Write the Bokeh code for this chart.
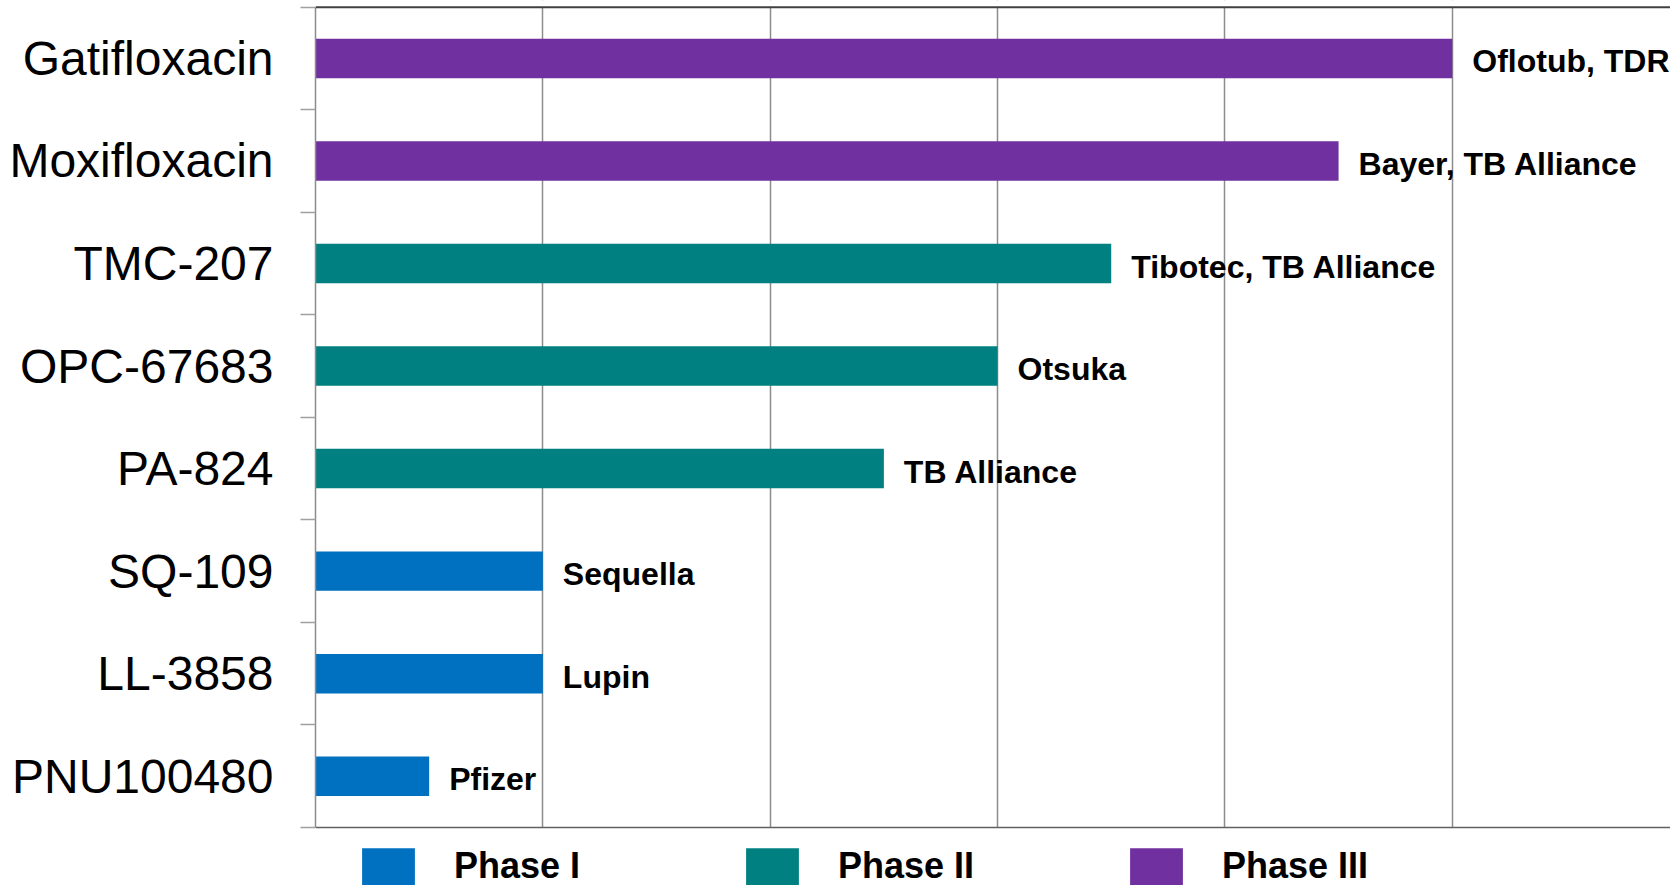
from bokeh.plotting import figure
from bokeh.models import (ColumnDataSource, Range1d, FixedTicker, Grid, Span,
                          Legend, LegendItem, BoxAnnotation)
from bokeh.core.properties import value
from bokeh.embed import file_html
from bokeh.resources import INLINE

# ---- data ----
drugs = ["Gatifloxacin", "Moxifloxacin", "TMC-207", "OPC-67683",
         "PA-824", "SQ-109", "LL-3858", "PNU100480"]
durations = [5.0, 4.5, 3.5, 3.0, 2.5, 1.0, 1.0, 0.5]
phases = ["Phase III", "Phase III", "Phase II", "Phase II",
          "Phase II", "Phase I", "Phase I", "Phase I"]
sponsors = ["Oflotub, TDR", "Bayer,  TB Alliance", "Tibotec, TB Alliance",
            "Otsuka", "TB Alliance", "Sequella", "Lupin", "Pfizer"]
phase_names = ["Phase I", "Phase II", "Phase III"]
phase_colors = ["#0070C0", "#008080", "#7030A0"]
grid_ticks = [1, 2, 3, 4, 5]

n = len(drugs)
ypos = [i + 0.5 for i in range(n)]

# layout padding (in row units) above the top line and below the bottom axis (legend room)
pad_top = 0.065
pad_bottom = 0.566

p = figure(width=1670, height=885, output_backend="svg", toolbar_location=None,
           x_range=Range1d(0, 5.96), y_range=Range1d(n + pad_bottom, -pad_top),
           x_axis_type=None, min_border_left=315, min_border_right=0,
           min_border_top=0, min_border_bottom=0)
p.outline_line_color = None
p.ygrid.visible = False
p.background_fill_color = "white"

# vertical gridlines
grid = Grid(dimension=0, ticker=FixedTicker(ticks=grid_ticks),
            grid_line_color="#8c8c8c", grid_line_width=1.5)
p.add_layout(grid)

# y axis with category labels at centres, boundary ticks as minor ticks
yax = p.yaxis[0]
yax.ticker = FixedTicker(ticks=ypos, minor_ticks=list(range(n + 1)))
yax.major_label_overrides = {y: d for y, d in zip(ypos, drugs)}
yax.bounds = (0, n)
yax.major_tick_out = 0
yax.major_tick_in = 0
yax.major_tick_line_color = None
yax.minor_tick_out = 15
yax.minor_tick_in = 0
yax.minor_tick_line_color = "#a0a0a0"
yax.minor_tick_line_width = 1.5
yax.axis_line_color = "#8c8c8c"
yax.axis_line_width = 1.5
yax.major_label_standoff = 27
yax.major_label_text_font = "Liberation Sans"
yax.major_label_text_font_size = "48px"
yax.major_label_text_color = "#000000"

# blank bands outside the plotting rows (legend area below, margin above)
p.add_layout(BoxAnnotation(top=n, fill_color="white", fill_alpha=1.0, line_color=None))
p.add_layout(BoxAnnotation(bottom=0, fill_color="white", fill_alpha=1.0, line_color=None))

# top and bottom border lines
p.add_layout(Span(location=0, dimension="width", line_color="#404040", line_width=2))
p.add_layout(Span(location=n, dimension="width", line_color="#606060", line_width=1.5))

renderers = []
for name, col in zip(phase_names, phase_colors):
    idx = [i for i, ph in enumerate(phases) if ph == name]
    src = ColumnDataSource(dict(
        y=[ypos[i] for i in idx],
        right=[durations[i] for i in idx],
    ))
    r = p.hbar(y="y", left=0, right="right", height=0.385, source=src,
               fill_color=col, line_color=None)
    renderers.append(r)

lab_src = ColumnDataSource(dict(x=durations, y=ypos, text=sponsors))
p.text(x="x", y="y", text="text", source=lab_src, x_offset=20, y_offset=3,
       text_font=value("Liberation Sans"), text_font_style="bold",
       text_font_size=value("32px"), text_color="#000000",
       text_baseline="middle", text_align="left")

legend = Legend(items=[LegendItem(label=nm, renderers=[r]) for nm, r in zip(phase_names, renderers)],
                orientation="horizontal", location=(40, -4.5), margin=0, padding=0,
                glyph_width=66, glyph_height=47, label_standoff=33, label_width=150,
                spacing=135, label_text_font="Liberation Sans",
                label_text_font_size="36px", label_text_font_style="bold",
                label_text_color="#000000", border_line_color=None,
                background_fill_alpha=0)
p.add_layout(legend, "center")

open("out.html", "w").write(file_html(p, INLINE))
